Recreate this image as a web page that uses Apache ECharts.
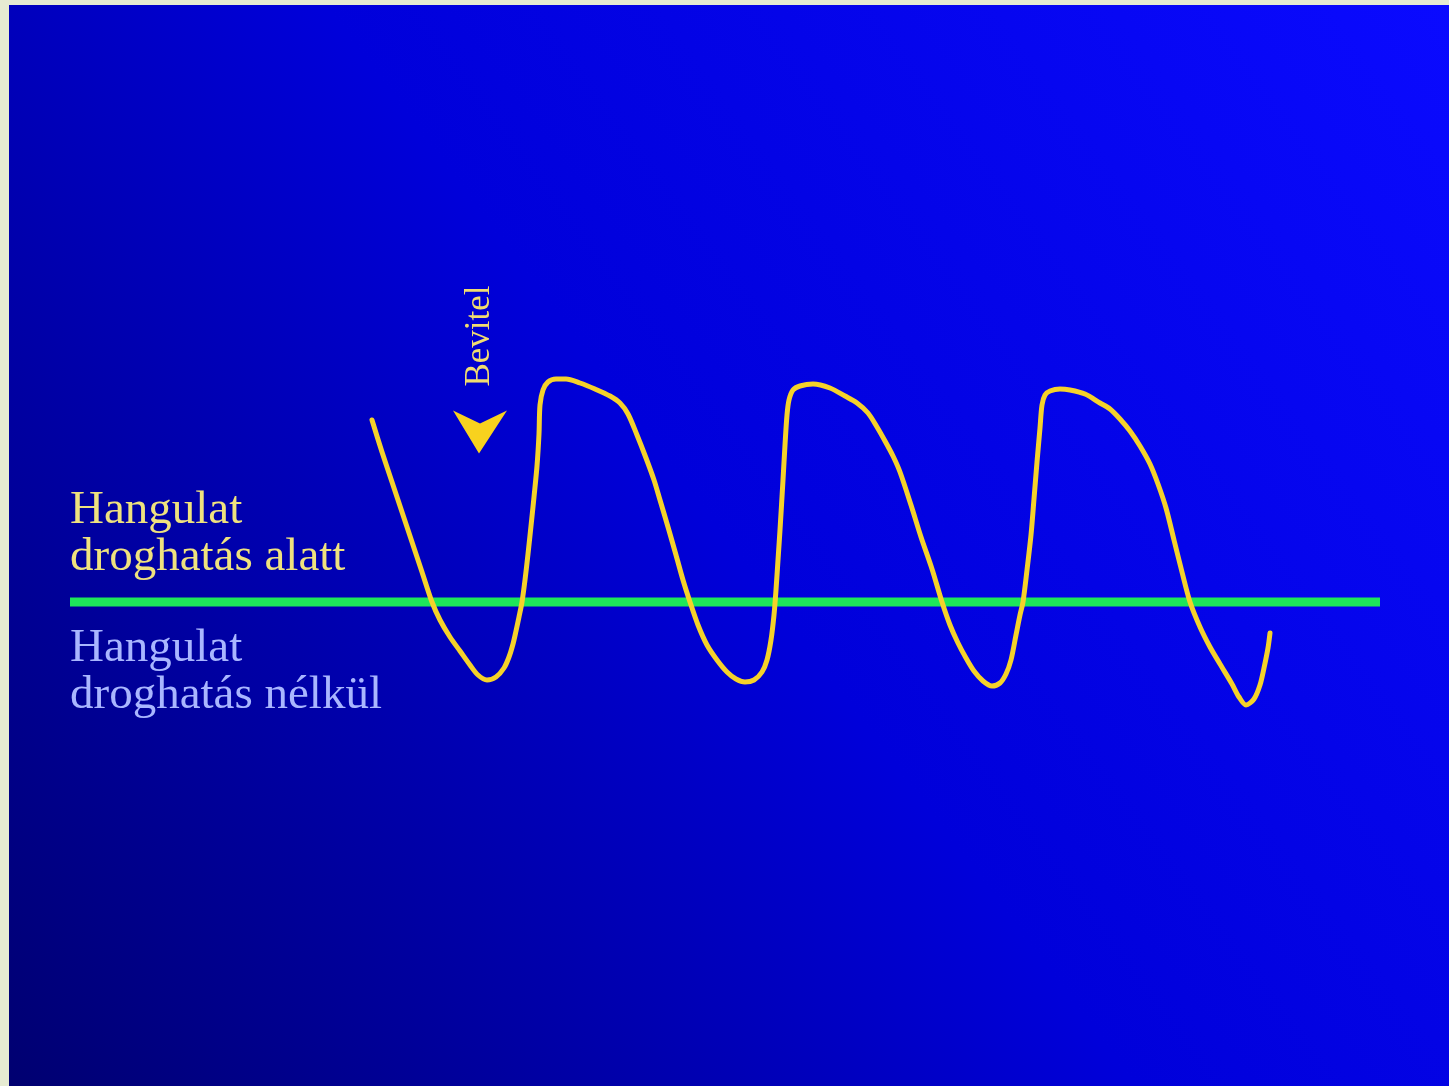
<!DOCTYPE html>
<html>
<head>
<meta charset="utf-8">
<script src="https://cdn.jsdelivr.net/npm/echarts@6/dist/echarts.min.js"></script>
<style>
  html, body { margin: 0; padding: 0; background: #e6ebd2; }
  #chart { width: 1449px; height: 1086px; }
</style>
</head>
<body>
<div id="chart"></div>
<script>
// Time axis (arbitrary units) and mood level (baseline = 0)
const moodTime = [30.2, 31.2, 32.2, 33.2, 34.2, 35.2, 36.2, 37.0, 38.0, 39.0, 40.0, 40.8, 41.7, 42.6, 43.4, 43.9, 44.3, 44.6, 44.9,
  45.2, 45.5, 45.8, 46.1, 46.4, 46.7, 46.9, 47.0, 47.3, 47.8, 48.6, 49.6, 51.0, 52.5, 54.0, 55.0, 55.8, 56.7, 57.6, 58.4, 59.0,
  59.8, 60.6, 61.3, 62.0, 62.8, 63.7, 64.7, 65.7, 66.6, 67.5, 68.4, 69.2, 69.7, 70.1, 70.4, 70.6, 70.8, 71.0, 71.3, 71.5,
  71.7, 71.9, 72.3, 73.0, 74.3, 76.0, 77.5, 78.7, 79.8, 80.7, 81.5, 82.3, 83.0, 84.1, 85.1, 86.2, 87.2, 88.0, 88.8, 89.6,
  90.4, 91.3, 92.2, 93.0, 93.6, 94.1, 94.6, 95.0, 95.3, 95.7, 96.1, 96.4, 96.7, 97.0, 97.2, 97.5, 98.0, 99.0, 100.0,
  101.5, 103.0, 104.0, 105.0, 106.0, 107.0, 108.0, 108.8, 109.6, 110.4, 111.2, 112.0, 113.0, 114.0, 115.0, 116.2, 116.9,
  117.6, 118.4, 119.0, 119.4, 119.8, 120.0];
const moodLevel = [18.2, 15.0, 12.0, 9.0, 6.0, 3.0, 0.0, -1.8, -3.5, -4.9, -6.3, -7.3, -7.8, -7.5, -6.6, -5.5, -4.2, -2.9, -1.5,
  0.0, 2.2, 4.8, 7.6, 10.5, 13.6, 16.8, 19.7, 21.2, 22.0, 22.3, 22.3, 21.9, 21.3, 20.6, 19.9, 18.8, 16.7, 14.4, 12.2, 10.2,
  7.5, 4.7, 2.2, 0.0, -2.3, -4.3, -5.8, -7.0, -7.7, -8.0, -7.8, -7.0, -5.8, -3.8, -1.3, 1.2, 4.2, 7.2, 12.2, 15.7,
  18.7, 20.2, 21.2, 21.6, 21.8, 21.4, 20.6, 19.9, 18.9, 17.5, 16.1, 14.6, 13.0, 9.7, 6.5, 3.3, 0.0, -2.3, -4.1, -5.6,
  -6.9, -7.9, -8.4, -8.1, -7.2, -5.8, -3.3, -1.3, 0.0, 3.2, 6.7, 10.3, 14.0, 17.4, 19.7, 20.7, 21.1, 21.3, 21.2,
  20.8, 19.9, 19.3, 18.3, 17.1, 15.6, 13.8, 11.8, 9.4, 6.2, 3.0, 0.0, -2.5, -4.5, -6.2, -8.2, -9.5,
  -10.3, -9.7, -8.3, -6.6, -4.6, -3.1];
const baselineTime = [0, 131];
const baselineLevel = [0, 0];
const intakeTime = [41.0];
const intakeLevel = [17.0];

const labelDrug = ['Hangulat', 'droghatás alatt'];
const labelNoDrug = ['Hangulat', 'droghatás nélkül'];
const intakeLabel = 'Bevitel';

const chart = echarts.init(document.getElementById('chart'));
const serif = '"Liberation Serif", "DejaVu Serif", serif';

function zip(a, b) { return a.map((v, i) => [v, b[i]]); }

chart.setOption({
  backgroundColor: '#e6ebd2',
  animation: false,
  grid: { left: 70, right: 69, top: 372, bottom: 374 },
  xAxis: { type: 'value', min: 0, max: 131, show: false },
  yAxis: { type: 'value', min: -11, max: 23, show: false },
  graphic: [
    {
      type: 'rect', z: -10, silent: true,
      shape: { x: 9, y: 5, width: 1440, height: 1081 },
      style: {
        fill: new echarts.graphic.LinearGradient(1, 0, 0, 1, [
          { offset: 0, color: '#0a0aff' },
          { offset: 0.5, color: '#0000da' },
          { offset: 1, color: '#000070' }
        ])
      }
    },
    { type: 'text', left: 70, top: 487, style: { text: labelDrug[0], font: '47px ' + serif, fill: '#efe27e' } },
    { type: 'text', left: 70, top: 534, style: { text: labelDrug[1], font: '47px ' + serif, fill: '#efe27e' } },
    { type: 'text', left: 70, top: 625, style: { text: labelNoDrug[0], font: '47px ' + serif, fill: '#a9b6ff' } },
    { type: 'text', left: 70, top: 672, style: { text: labelNoDrug[1], font: '47px ' + serif, fill: '#a9b6ff' } },
    {
      type: 'text', x: 480, y: 336, rotation: Math.PI / 2,
      style: { text: intakeLabel, font: '35px ' + serif, fill: '#f0dc70', align: 'center', verticalAlign: 'middle' }
    }
  ],
  series: [
    {
      type: 'line', data: zip(baselineTime, baselineLevel), symbol: 'none',
      lineStyle: { color: '#1ee65a', width: 9, cap: 'butt' }, z: 2
    },
    {
      type: 'line', data: zip(moodTime, moodLevel), symbol: 'none', smooth: 0.3,
      lineStyle: { color: '#f5d22a', width: 5, cap: 'round', join: 'round' }, z: 3
    },
    {
      type: 'scatter', data: zip(intakeTime, intakeLevel),
      symbol: 'path://M0,0 L27,13 L54,0 L26,43 Z', symbolSize: [54, 43],
      itemStyle: { color: '#f8d21e', opacity: 1 }, z: 4
    }
  ]
});
</script>
</body>
</html>
